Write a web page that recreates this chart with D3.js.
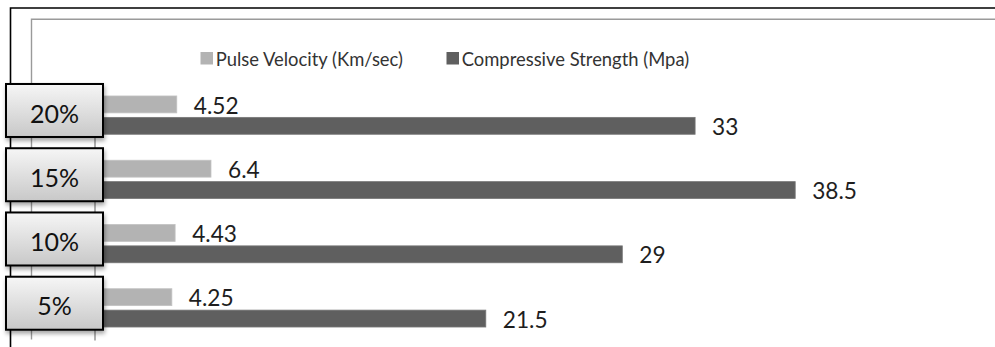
<!DOCTYPE html>
<html>
<head>
<meta charset="utf-8">
<script src="https://cdn.jsdelivr.net/npm/d3@7"></script>
<style>
  html, body { margin: 0; padding: 0; background: #fff; }
  svg { display: block; }
</style>
</head>
<body>
<svg id="chart" width="995" height="347"></svg>
<script>
// Mix percentages, listed top to bottom as drawn
const categories = ["20%", "15%", "10%", "5%"];
const pulseVelocity = [4.52, 6.4, 4.43, 4.25];          // Km/sec
const compressiveStrength = [33, 38.5, 29, 21.5];      // Mpa
const seriesNames = ["Pulse Velocity (Km/sec)", "Compressive Strength (Mpa)"];
const seriesKeys = ["pulse", "comp"];

const FONT = "Lato, 'Open Sans', sans-serif";
const colors = { pulse: "#b3b3b3", comp: "#5f5f5f" };
const strokes = { pulse: "#c2c2c2", comp: "#777777" };

const rows = categories.map((c, i) => ({
  cat: c,
  values: [
    { key: "pulse", value: pulseVelocity[i] },
    { key: "comp", value: compressiveStrength[i] }
  ]
}));

const svg = d3.select("#chart");
const defs = svg.append("defs");

const grad = defs.append("linearGradient")
  .attr("id", "boxGrad").attr("x1", 0).attr("y1", 0).attr("x2", 0).attr("y2", 1);
grad.append("stop").attr("offset", "0%").attr("stop-color", "#f6f6f6");
grad.append("stop").attr("offset", "100%").attr("stop-color", "#c8c8c8");

const shadow = defs.append("filter").attr("id", "boxShadow")
  .attr("x", "-20%").attr("y", "-20%").attr("width", "150%").attr("height", "160%");
shadow.append("feDropShadow")
  .attr("dx", 1).attr("dy", 3).attr("stdDeviation", 2)
  .attr("flood-color", "#000").attr("flood-opacity", 0.35);

// Outer chart frame and plot-area frame (both run off the right/bottom edge)
svg.append("path")
  .attr("d", "M10.5,400 V8 H1000")
  .attr("fill", "none").attr("stroke", "#000").attr("stroke-width", 1.6);
svg.append("path")
  .attr("d", "M31.5,339.5 V19.2 H1000")
  .attr("fill", "none").attr("stroke", "#9a9a9a").attr("stroke-width", 1.4);

// Scales
const x = d3.scaleLinear().domain([0, 50]).range([94.5, 1004.5]);
const y = d3.scaleBand().domain(categories).range([83, 340])
  .paddingInner(0.404).paddingOuter(0.202);
const ySub = d3.scaleBand().domain(seriesKeys).range([0, y.bandwidth()])
  .paddingInner(0.21);

// Category axis line
const axis = svg.append("g")
  .attr("transform", `translate(${x(0)},0)`)
  .call(d3.axisLeft(y).tickSize(0).tickSizeOuter(0).tickFormat(""));
axis.select(".domain").attr("stroke", "#8f8f8f").attr("stroke-width", 1.4);

// Bars
const groups = svg.append("g").selectAll("g")
  .data(rows).join("g")
  .attr("transform", d => `translate(0,${y(d.cat)})`);

groups.selectAll("rect")
  .data(d => d.values).join("rect")
  .attr("x", x(0))
  .attr("y", d => ySub(d.key))
  .attr("width", d => x(d.value) - x(0))
  .attr("height", ySub.bandwidth())
  .attr("fill", d => colors[d.key])
  .attr("stroke", d => strokes[d.key])
  .attr("stroke-width", 0.8);

// Value labels just past each bar end
groups.selectAll("text")
  .data(d => d.values).join("text")
  .attr("x", d => x(d.value) + 17)
  .attr("y", d => ySub(d.key) + ySub.bandwidth() / 2)
  .attr("dy", "0.4em")
  .attr("font-family", FONT)
  .attr("font-size", 22.7)
  .attr("fill", "#1e1e1e")
  .text(d => d.value);

// Legend
const legend = svg.append("g").attr("transform", "translate(200.5,52)");
const legendX = [0, 246];
seriesKeys.forEach((k, i) => {
  const g = legend.append("g").attr("transform", `translate(${legendX[i]},0)`);
  g.append("rect").attr("width", 12.5).attr("height", 12.5).attr("fill", colors[k]);
  g.append("text").attr("x", 15.2).attr("y", 13.6)
    .attr("font-family", FONT).attr("font-size", 18.4)
    .attr("fill", "#333").text(seriesNames[i]);
});

// Category label boxes
const boxes = svg.append("g").selectAll("g")
  .data(categories).join("g")
  .attr("transform", d => `translate(6,${y(d) - 12})`);
boxes.append("rect")
  .attr("width", 97).attr("height", 53)
  .attr("fill", "url(#boxGrad)")
  .attr("stroke", "#000").attr("stroke-width", 2)
  .attr("filter", "url(#boxShadow)");
boxes.append("text")
  .attr("x", 48.5).attr("y", 38.6)
  .attr("text-anchor", "middle")
  .attr("font-family", FONT).attr("font-size", 25)
  .attr("fill", "#111")
  .text(d => d);
</script>
</body>
</html>
